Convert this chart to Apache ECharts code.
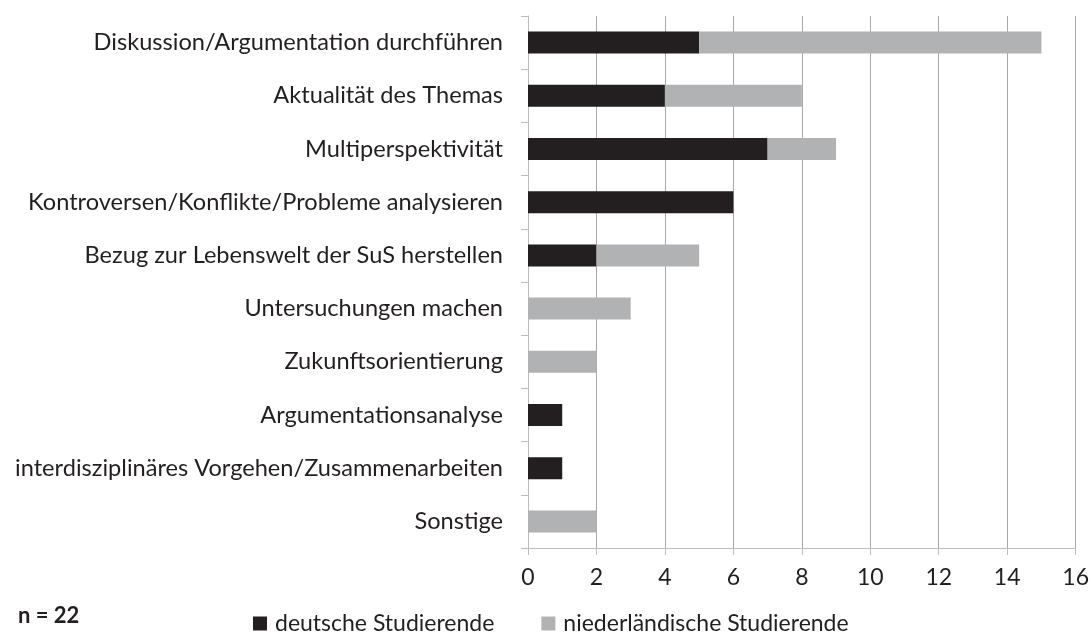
<!DOCTYPE html>
<html>
<head>
<meta charset="utf-8">
<script src="https://cdn.jsdelivr.net/npm/echarts@6/dist/echarts.min.js"></script>
<style>
html,body{margin:0;padding:0;background:#fff;}
#chart{width:1092px;height:633px;}
</style>
</head>
<body>
<div id="chart"></div>
<script>
const categories = [
  'Diskussion/Argumentation durchführen',
  'Aktualität des Themas',
  'Multiperspektivität',
  'Kontroversen/Konflikte/Probleme analysieren',
  'Bezug zur Lebenswelt der SuS herstellen',
  'Untersuchungen machen',
  'Zukunftsorientierung',
  'Argumentationsanalyse',
  'interdisziplinäres Vorgehen/Zusammenarbeiten',
  'Sonstige'
];
const deutsche = [5, 4, 7, 6, 2, 0, 0, 1, 1, 0];
const niederlaendische = [10, 4, 2, 0, 3, 3, 2, 0, 0, 2];
const seriesNames = ['deutsche Studierende', 'niederländische Studierende'];
const xTicks = { min: 0, max: 16, interval: 2 };
const note = 'n = 22';

const FONT = 'Lato';
const chart = echarts.init(document.getElementById('chart'), null, { renderer: 'canvas' });
chart.setOption({
  animation: false,
  backgroundColor: '#ffffff',
  textStyle: { fontFamily: FONT },
  grid: { left: 528, top: 16, width: 549, height: 532, containLabel: false },
  legend: {
    left: 253, top: 612, padding: 0,
    itemWidth: 14, itemHeight: 14, itemGap: 47,
    icon: 'rect',
    textStyle: { fontFamily: FONT, fontSize: 23, color: '#231f20', padding: [0, 0, 0, 3] },
    data: seriesNames
  },
  xAxis: {
    type: 'value',
    min: xTicks.min, max: xTicks.max, interval: xTicks.interval,
    axisLine: { show: true, lineStyle: { color: '#bdbdbd', width: 1 } },
    axisTick: { show: true, length: 7, lineStyle: { color: '#bdbdbd' } },
    splitLine: { show: true, lineStyle: { color: '#a8a8a8', width: 1 } },
    axisLabel: { fontFamily: FONT, fontSize: 23, color: '#231f20', margin: 18 }
  },
  yAxis: {
    type: 'category',
    inverse: true,
    data: categories,
    axisLine: { show: true, lineStyle: { color: '#bdbdbd', width: 1 } },
    axisTick: { show: true, length: 7, alignWithLabel: false, lineStyle: { color: '#bdbdbd' } },
    axisLabel: { fontFamily: FONT, fontSize: 23.6, color: '#231f20', margin: 25 }
  },
  series: [
    {
      name: seriesNames[0], type: 'bar', stack: 'total', data: deutsche,
      barWidth: 22, itemStyle: { color: '#231f20' }
    },
    {
      name: seriesNames[1], type: 'bar', stack: 'total', data: niederlaendische,
      barWidth: 22, itemStyle: { color: '#b1b2b4' }
    }
  ],
  graphic: [
    {
      type: 'text', left: 18, top: 605,
      style: { text: note, font: 'bold 22px ' + FONT, fill: '#231f20' }
    }
  ]
});
</script>
</body>
</html>
